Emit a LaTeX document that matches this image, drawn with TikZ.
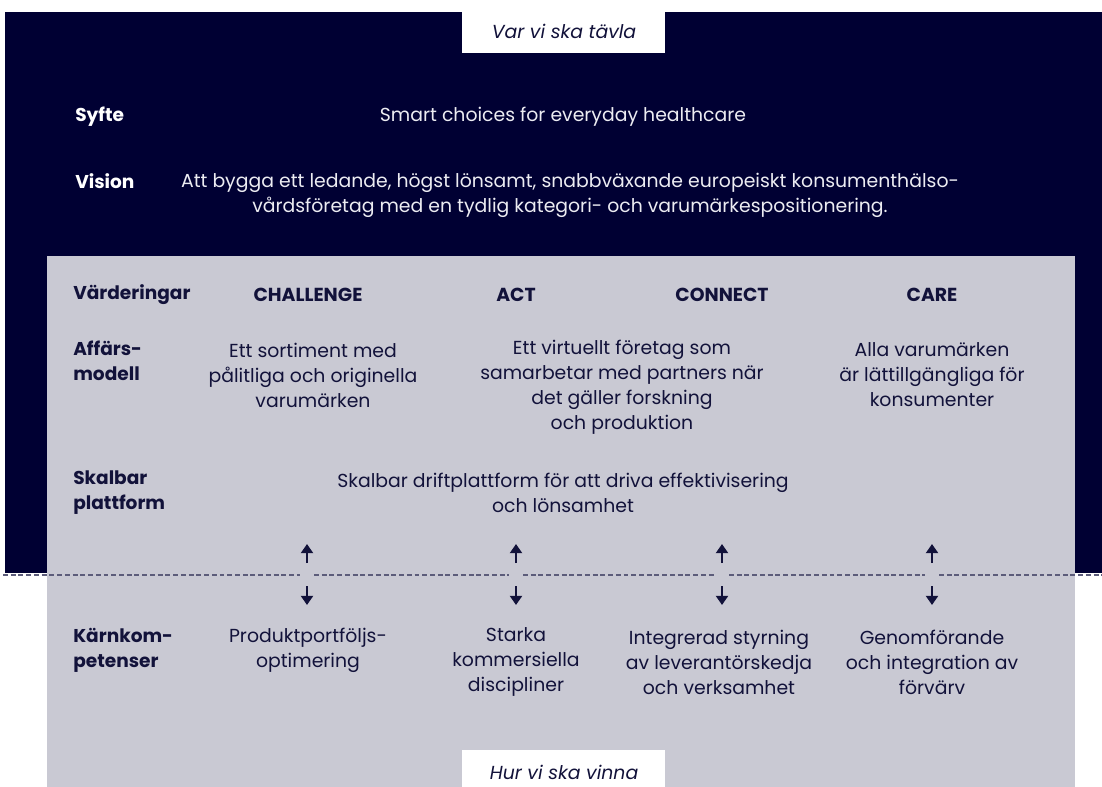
\documentclass[tikz,border=0pt]{standalone}
\usepackage{fontspec}
\setmainfont{Poppins}
\usetikzlibrary{arrows.meta}

\definecolor{navy}{HTML}{000033}
\definecolor{panel}{HTML}{C9C9D3}
\definecolor{ink}{HTML}{12123A}
\definecolor{dashgray}{HTML}{5C5C7A}
\definecolor{paper}{HTML}{ECECF2}

\tikzset{
  txt/.style={font=\fontsize{13.4}{17.8}\selectfont, inner sep=0pt},
  rowlabel/.style={txt, font=\fontsize{13.2}{17.8}\selectfont\bfseries, anchor=west, align=left},
  cell/.style={txt, align=center, text=ink},
  value/.style={cell, font=\fontsize{13.4}{17.8}\selectfont\bfseries},
  tag/.style={txt, font=\fontsize{13.4}{17.8}\selectfont\itshape, text=ink},
  link/.style={-{Triangle[length=6.5pt,width=8.5pt]}, line width=2pt, draw=ink},
  divider/.style={dashgray, line width=1pt, dash pattern=on 3.5pt off 2pt},
}

\begin{document}
\begin{tikzpicture}[x=0.025cm, y=-0.025cm]
    \useasboundingbox (0,0) rectangle (1102,787);

    % dark and light panels
    \fill[navy] (5,12) rectangle (1102,573);
    \fill[panel] (47,256) rectangle (1075,787);

    % tags
    \fill[white] (462,12) rectangle (665,53);
    \node[tag] (where) at (564,31) {Var vi ska tävla};
    \fill[white] (462,750) rectangle (665,787);
    \node[tag] (how) at (564,772) {Hur vi ska vinna};

    % purpose and vision
    \node[rowlabel, text=white] (syfteLbl) at (75,117) {Syfte};
    \node[txt, text=paper] (syfte) at (563,117) {Smart choices for everyday healthcare};

    \node[rowlabel, text=white] (visionLbl) at (75,181) {Vision};
    \node[txt, align=center, text=paper] (vision) at (570,195.5)
        {Att bygga ett ledande, högst lönsamt, snabbväxande europeiskt konsumenthälso-\\
         vårdsföretag med en tydlig kategori- och varumärkespositionering.};

    % values
    \node[rowlabel, text=ink] (valLbl) at (73,295) {Värderingar};
    \node[value] (challenge) at (308,295) {CHALLENGE};
    \node[value] (act) at (516,295) {ACT};
    \node[value] (connect) at (722,295) {CONNECT};
    \node[value] (care) at (932,295) {CARE};

    % business model
    \node[rowlabel, text=ink] (modelLbl) at (73,360.5) {Affärs-\\modell};
    \node[cell] (modelA) at (313,375) {Ett sortiment med\\pålitliga och originella\\varumärken};
    \node[cell] (modelB) at (622,387.5) {Ett virtuellt företag som\\samarbetar med partners när\\det gäller forskning\\och produktion};
    \node[cell] (modelC) at (932,375) {Alla varumärken\\är lättillgängliga för\\konsumenter};

    % platform
    \node[rowlabel, text=ink] (platLbl) at (73,493) {Skalbar\\plattform};
    \node[cell] (plat) at (563,493) {Skalbar driftplattform för att driva effektivisering\\och lönsamhet};

    % divider, broken at the arrows
    \draw[divider] (3,575) -- (300,575);
    \draw[divider] (314,575) -- (509,575);
    \draw[divider] (523,575) -- (715,575);
    \draw[divider] (729,575) -- (925,575);
    \draw[divider] (939,575) -- (1102,575);

    \coordinate (up1a) at (307,563); \coordinate (up1b) at (307,544);
    \coordinate (up2a) at (516,563); \coordinate (up2b) at (516,544);
    \coordinate (up3a) at (722,563); \coordinate (up3b) at (722,544);
    \coordinate (up4a) at (932,563); \coordinate (up4b) at (932,544);
    \draw[link] (up1a) -- (up1b);
    \draw[link] (up2a) -- (up2b);
    \draw[link] (up3a) -- (up3b);
    \draw[link] (up4a) -- (up4b);

    \coordinate (dn1a) at (307,586); \coordinate (dn1b) at (307,605);
    \coordinate (dn2a) at (516,586); \coordinate (dn2b) at (516,605);
    \coordinate (dn3a) at (722,586); \coordinate (dn3b) at (722,605);
    \coordinate (dn4a) at (932,586); \coordinate (dn4b) at (932,605);
    \draw[link] (dn1a) -- (dn1b);
    \draw[link] (dn2a) -- (dn2b);
    \draw[link] (dn3a) -- (dn3b);
    \draw[link] (dn4a) -- (dn4b);

    % core competences
    \node[rowlabel, text=ink] (coreLbl) at (73,650) {Kärnkom-\\petenser};
    \node[cell] (coreA) at (308,650) {Produktportföljs-\\optimering};
    \node[cell] (coreB) at (516,662) {Starka\\kommersiella\\discipliner};
    \node[cell] (coreC) at (719,662) {Integrerad styrning\\av leverantörskedja\\och verksamhet};
    \node[cell] (coreD) at (932,662) {Genomförande\\och integration av\\förvärv};

\end{tikzpicture}
\end{document}
